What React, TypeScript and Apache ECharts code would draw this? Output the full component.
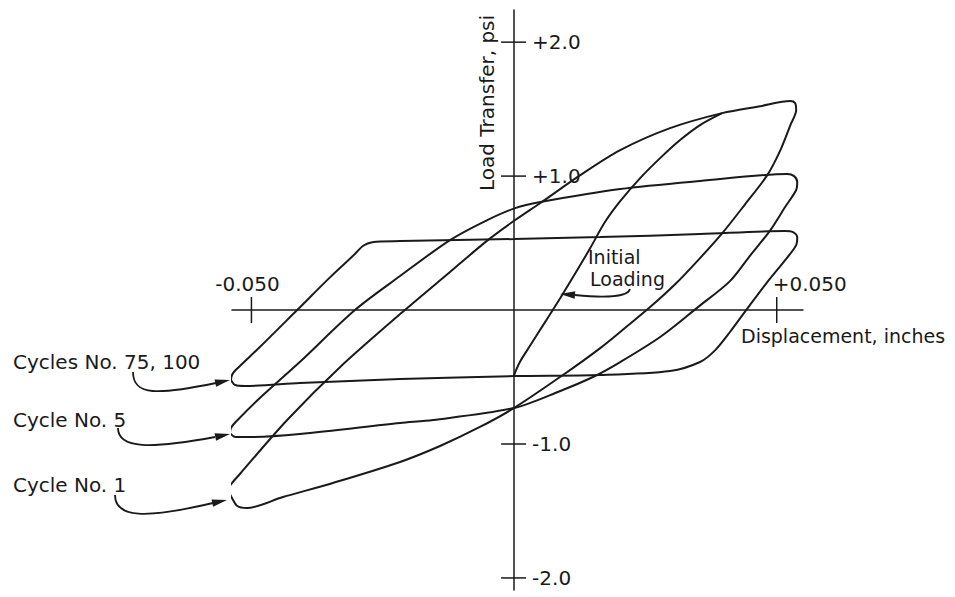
import React, { useEffect, useRef } from "react";
import * as echarts from "echarts";

// ---- Tick values / labels ----
const xTickValues = [-0.05, 0.05];
const xTickLabels = ["-0.050", "+0.050"];
const yTickValues = [2, 1, -1, -2];
const yTickLabels = ["+2.0", "+1.0", "-1.0", "-2.0"];

// ---- Series: [displacement (in), load transfer (psi)] ----
const cycles75and100: [number, number][] = [
  [-0.0539, -0.522], [-0.0537, -0.485], [-0.053, -0.448], [-0.0484, -0.276],
  [-0.0413, 0], [-0.035, 0.246], [-0.0303, 0.418], [-0.0288, 0.478],
  [-0.027, 0.507], [-0.0217, 0.515], [0, 0.53], [0.0164, 0.545],
  [0.0354, 0.567], [0.0516, 0.59], [0.0531, 0.582], [0.0539, 0.545],
  [0.0537, 0.485], [0.0516, 0.373], [0.0482, 0.209], [0.0446, 0.022],
  [0.0411, -0.164], [0.0383, -0.299], [0.0354, -0.388], [0.0297, -0.455],
  [0.0164, -0.485], [0, -0.493], [-0.0217, -0.515], [-0.0408, -0.545],
  [-0.0512, -0.567], [-0.0531, -0.56], [-0.0539, -0.522],
];

const cycle5: [number, number][] = [
  [-0.0541, -0.918], [-0.0539, -0.881], [-0.053, -0.836], [-0.0484, -0.657],
  [-0.0408, -0.388], [-0.0303, 0], [-0.0217, 0.254], [-0.0122, 0.522],
  [-0.0051, 0.672], [0.0002, 0.761], [0.005, 0.806], [0.0202, 0.903],
  [0.0354, 0.963], [0.052, 1.015], [0.0533, 1.0], [0.0539, 0.955],
  [0.0537, 0.896], [0.0516, 0.769], [0.0488, 0.597], [0.045, 0.41],
  [0.0411, 0.216], [0.035, 0.022], [0.0278, -0.201], [0.0202, -0.388],
  [0.015, -0.5], [0.0088, -0.604], [0, -0.731], [-0.0154, -0.821],
  [-0.0217, -0.843], [-0.0408, -0.925], [-0.0503, -0.948], [-0.053, -0.948],
  [-0.0541, -0.918],
];

const cycle1: [number, number][] = [
  [-0.0543, -1.358], [-0.0541, -1.313], [-0.0522, -1.224], [-0.0432, -0.821],
  [-0.0331, -0.425], [-0.0208, 0], [-0.0122, 0.284], [-0.005, 0.522],
  [0.0002, 0.672], [0.005, 0.799], [0.0126, 1.007], [0.0202, 1.194],
  [0.0297, 1.358], [0.0396, 1.47], [0.0469, 1.522], [0.0526, 1.56],
  [0.0535, 1.545], [0.0537, 1.493], [0.0526, 1.381], [0.0507, 1.194],
  [0.0482, 1.007], [0.044, 0.791], [0.0398, 0.582], [0.0354, 0.388],
  [0.0307, 0.194], [0.0259, 0.022], [0.0211, -0.134], [0.0164, -0.284],
  [0.0093, -0.485], [0, -0.731], [-0.0065, -0.873], [-0.0141, -1.015],
  [-0.0217, -1.134], [-0.0345, -1.291], [-0.044, -1.396], [-0.0509, -1.478],
  [-0.0527, -1.463], [-0.0537, -1.403], [-0.0543, -1.358],
];

const initialLoading: [number, number][] = [
  [0, -0.485], [0.0011, -0.388], [0.003, -0.269], [0.0059, -0.09],
  [0.0088, 0.09], [0.0118, 0.284], [0.0145, 0.463], [0.0173, 0.657],
  [0.0202, 0.813], [0.024, 0.985], [0.0278, 1.134], [0.0316, 1.269],
  [0.0354, 1.381], [0.0396, 1.47],
];

const INK = "#1a1a1a";
const FONT = '20px "DejaVu Sans", sans-serif';
const FONT_SM = '19px "DejaVu Sans", sans-serif';

function lineSeries(name: string, data: [number, number][]) {
  return {
    name,
    type: "line",
    data,
    showSymbol: false,
    smooth: 0.3,
    lineStyle: { color: INK, width: 2 },
    silent: true,
    z: 3,
  };
}

function arrowHead(tip: [number, number], from: [number, number], len = 15, half = 3.8) {
  const dx = tip[0] - from[0];
  const dy = tip[1] - from[1];
  const d = Math.hypot(dx, dy);
  const ux = dx / d, uy = dy / d;
  const bx = tip[0] - ux * len, by = tip[1] - uy * len;
  return {
    type: "polygon",
    shape: { points: [tip, [bx - uy * half, by + ux * half], [bx + uy * half, by - ux * half]] },
    style: { fill: INK },
  };
}

function curve(x1: number, y1: number, cpx1: number, cpy1: number, cpx2: number, cpy2: number, x2: number, y2: number) {
  return {
    type: "bezierCurve",
    shape: { x1, y1, cpx1, cpy1, cpx2, cpy2, x2, y2 },
    style: { stroke: INK, lineWidth: 1.8, fill: null },
  };
}

function label(text: string, x: number, y: number, font: string = FONT) {
  return {
    type: "text",
    x,
    y,
    style: {
      text,
      font,
      fill: INK,
      align: "left",
      textAlign: "left",
      verticalAlign: "middle",
      textVerticalAlign: "middle",
    },
  };
}

export default function App() {
  const ref = useRef<HTMLDivElement>(null);

  useEffect(() => {
    document.body.style.margin = "0";
    if (!ref.current) return;
    const chart = echarts.init(ref.current, undefined, { renderer: "svg" });

    const option: any = {
      animation: false,
      backgroundColor: "#ffffff",
      grid: { left: 232, right: 152, top: 10, bottom: 7 },
      xAxis: {
        type: "value",
        min: -0.0537,
        max: 0.055,
        axisLine: { show: true, onZero: true, lineStyle: { color: INK, width: 1.5 } },
        axisTick: { show: false },
        axisLabel: { show: false },
        splitLine: { show: false },
      },
      yAxis: {
        type: "value",
        min: -2.09,
        max: 2.24,
        axisLine: { show: true, onZero: true, lineStyle: { color: INK, width: 1.5 } },
        axisTick: { show: false },
        axisLabel: { show: false },
        splitLine: { show: false },
      },
      series: [
        lineSeries("Cycles No. 75, 100", cycles75and100),
        lineSeries("Cycle No. 5", cycle5),
        lineSeries("Cycle No. 1", cycle1),
        lineSeries("Initial Loading", initialLoading),
        {
          type: "custom",
          name: "xTicks",
          clip: false,
          silent: true,
          data: xTickValues.map((v) => [v, 0]),
          renderItem: (params: any, api: any) => {
            const i = params.dataIndex;
            const v = api.value(0);
            const p = api.coord([v, 0]);
            const neg = v < 0;
            return {
              type: "group",
              children: [
                {
                  type: "line",
                  shape: { x1: p[0], y1: p[1] - 13, x2: p[0], y2: p[1] + 13 },
                  style: { stroke: INK, lineWidth: 1.5 },
                },
                {
                  type: "text",
                  style: {
                    text: xTickLabels[i],
                    x: p[0] - 4,
                    y: p[1] - 26,
                    font: FONT,
                    fill: INK,
                    align: neg ? "center" : "left",
                    textAlign: neg ? "center" : "left",
                    verticalAlign: "middle",
                    textVerticalAlign: "middle",
                  },
                },
              ],
            };
          },
        },
        {
          type: "custom",
          name: "yTicks",
          clip: false,
          silent: true,
          data: yTickValues.map((v) => [0, v]),
          renderItem: (params: any, api: any) => {
            const i = params.dataIndex;
            const v = api.value(1);
            const p = api.coord([0, v]);
            return {
              type: "group",
              children: [
                {
                  type: "line",
                  shape: { x1: p[0] - 13, y1: p[1], x2: p[0] + 12, y2: p[1] },
                  style: { stroke: INK, lineWidth: 1.5 },
                },
                {
                  type: "text",
                  style: {
                    text: yTickLabels[i],
                    x: p[0] + 18,
                    y: p[1],
                    font: FONT,
                    fill: INK,
                    align: "left",
                    textAlign: "left",
                    verticalAlign: "middle",
                    textVerticalAlign: "middle",
                  },
                },
              ],
            };
          },
        },
      ],
      graphic: [
        label("Displacement, inches", 741, 336, FONT_SM),
        {
          type: "text",
          x: 487,
          y: 103,
          rotation: Math.PI / 2,
          style: {
            text: "Load Transfer, psi",
            font: FONT,
            fill: INK,
            align: "center",
            textAlign: "center",
            verticalAlign: "middle",
            textVerticalAlign: "middle",
          },
        },
        label("Cycles No. 75, 100", 13, 362),
        label("Cycle No. 5", 13, 420),
        label("Cycle No. 1", 13, 485),
        label("Initial", 588, 257, FONT_SM),
        label("Loading", 590, 279, FONT_SM),
        curve(133, 372, 133, 396, 158, 395, 216, 383),
        arrowHead([230, 380], [216, 383]),
        curve(118, 428, 118, 449, 150, 449, 215, 437),
        arrowHead([230, 434], [215, 437]),
        curve(115, 495, 115, 518, 145, 519, 213, 503),
        arrowHead([227, 500], [213, 503]),
        curve(630, 289, 628, 297, 605, 298, 575, 295),
        arrowHead([560, 294], [575, 295]),
      ],
    };

    chart.setOption(option);
    return () => chart.dispose();
  }, []);

  return <div ref={ref} style={{ width: 955, height: 597 }} />;
}
